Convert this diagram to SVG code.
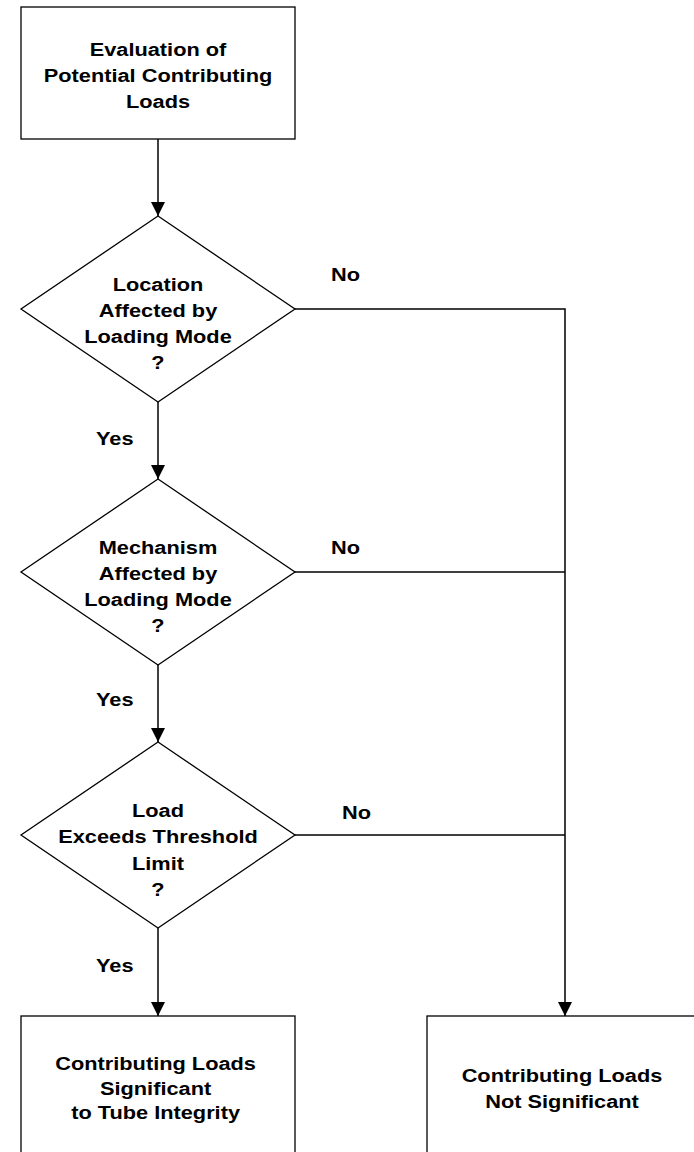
<svg xmlns="http://www.w3.org/2000/svg" width="694" height="1152" viewBox="0 0 694 1152">
<style>
  .shape { fill: #ffffff; stroke: #000000; stroke-width: 1.3; }
  .line { fill: none; stroke: #000000; stroke-width: 1.5; }
  text { font-family: "Liberation Sans", Arial, sans-serif; font-weight: bold; font-size: 18px; fill: #000000; }
  .c { text-anchor: middle; }
</style>
<defs>
  <marker id="arrow" markerWidth="14" markerHeight="14" refX="14" refY="7" orient="auto" markerUnits="userSpaceOnUse">
    <path d="M0,0 L14,7 L0,14 Z" fill="#000000"/>
  </marker>
</defs>
<rect width="694" height="1152" fill="#ffffff"/>

<g id="connectors">
  <line class="line" x1="158" y1="139" x2="158" y2="216" marker-end="url(#arrow)"/>
  <line class="line" x1="158" y1="402" x2="158" y2="479" marker-end="url(#arrow)"/>
  <line class="line" x1="158" y1="665" x2="158" y2="742" marker-end="url(#arrow)"/>
  <line class="line" x1="158" y1="928" x2="158" y2="1016" marker-end="url(#arrow)"/>
  <polyline class="line" points="295,309 565,309 565,1016" marker-end="url(#arrow)"/>
  <line class="line" x1="295" y1="572" x2="565" y2="572"/>
  <line class="line" x1="295" y1="835" x2="565" y2="835"/>
  <text transform="translate(96 445) scale(1.21 1)">Yes</text>
  <text transform="translate(96 706) scale(1.21 1)">Yes</text>
  <text transform="translate(96 972) scale(1.21 1)">Yes</text>
  <text transform="translate(331 281) scale(1.21 1)">No</text>
  <text transform="translate(331 554) scale(1.21 1)">No</text>
  <text transform="translate(342 819) scale(1.21 1)">No</text>
</g>

<g id="start">
  <rect class="shape" x="21" y="7" width="274" height="132"/>
  <g transform="translate(158 0) scale(1.21 1)">
    <text class="c" x="0" y="56">Evaluation of</text>
    <text class="c" x="0" y="82">Potential Contributing</text>
    <text class="c" x="0" y="108">Loads</text>
  </g>
</g>

<g id="decision1">
  <polygon class="shape" points="158,216 295,309 158,402 21,309"/>
  <g transform="translate(158 0) scale(1.21 1)">
    <text class="c" x="0" y="291">Location</text>
    <text class="c" x="0" y="317">Affected by</text>
    <text class="c" x="0" y="343">Loading Mode</text>
    <text class="c" x="0" y="369">?</text>
  </g>
</g>

<g id="decision2">
  <polygon class="shape" points="158,479 295,572 158,665 21,572"/>
  <g transform="translate(158 0) scale(1.21 1)">
    <text class="c" x="0" y="554">Mechanism</text>
    <text class="c" x="0" y="580">Affected by</text>
    <text class="c" x="0" y="606">Loading Mode</text>
    <text class="c" x="0" y="632">?</text>
  </g>
</g>

<g id="decision3">
  <polygon class="shape" points="158,742 295,835 158,928 21,835"/>
  <g transform="translate(158 0) scale(1.21 1)">
    <text class="c" x="0" y="817">Load</text>
    <text class="c" x="0" y="843">Exceeds Threshold</text>
    <text class="c" x="0" y="870">Limit</text>
    <text class="c" x="0" y="896">?</text>
  </g>
</g>

<g id="significant">
  <rect class="shape" x="21" y="1016" width="274" height="150"/>
  <g transform="translate(158 0) scale(1.21 1)">
    <text class="c" x="-2" y="1070">Contributing Loads</text>
    <text class="c" x="-2" y="1095">Significant</text>
    <text class="c" x="-2" y="1119"> to Tube Integrity</text>
  </g>
</g>

<g id="not-significant">
  <rect class="shape" x="427" y="1016" width="280" height="150"/>
  <g transform="translate(562 0) scale(1.21 1)">
    <text class="c" x="0" y="1082">Contributing Loads</text>
    <text class="c" x="0" y="1108">Not Significant</text>
  </g>
</g>
</svg>
